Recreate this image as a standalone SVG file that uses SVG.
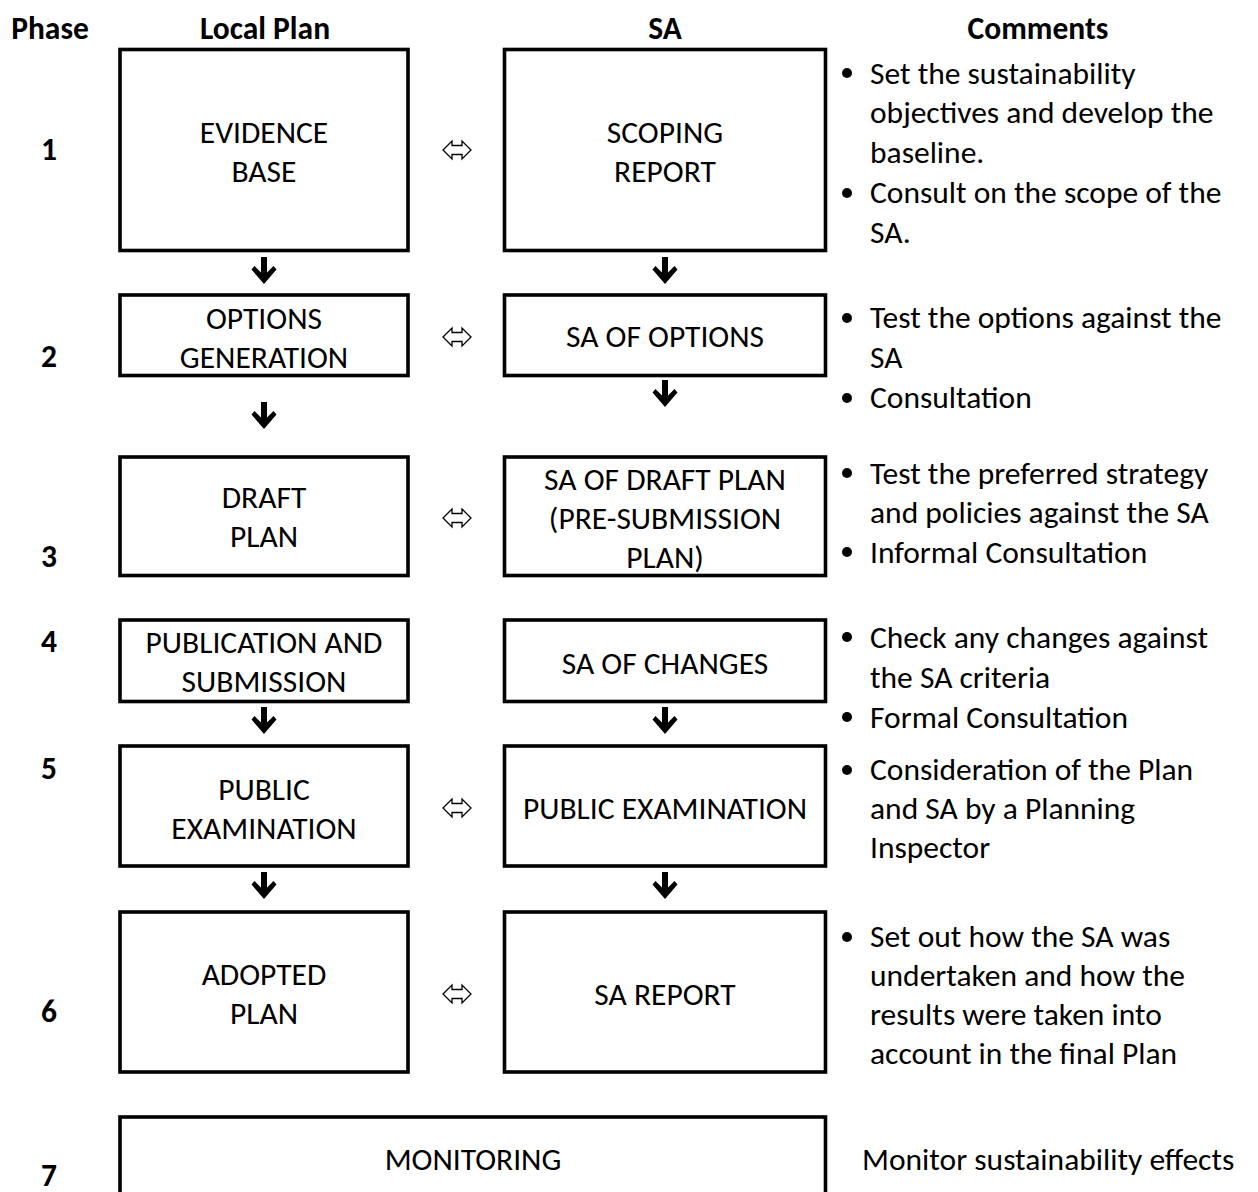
<svg xmlns="http://www.w3.org/2000/svg" width="1258" height="1192" viewBox="0 0 1258 1192">
<style>
text{font-family:Carlito,Lato,"Liberation Sans",sans-serif;fill:#000}
.h{font-size:31.5px;font-weight:bold;text-anchor:middle}
.n{font-size:31.5px;font-weight:bold;text-anchor:middle}
.b{font-size:31.5px;text-anchor:middle}
.c{font-size:31.5px}
.box{fill:#fff;stroke:#000;stroke-width:3.6}
.arr{fill:#000}
.dbl{fill:#fff;stroke:#000;stroke-width:1.3;stroke-linejoin:miter}
</style>
<defs>
<polygon id="down" points="-3,0 3,0 3,15.5 9.5,9 12.5,12.5 0,27 -12.5,12.5 -9.5,9 -3,15.5"/>
<polygon id="lr" points="-14,0 -5,-9 -5,-4.5 5,-4.5 5,-9 14,0 5,9 5,4.5 -5,4.5 -5,9"/>
</defs>
<rect width="1258" height="1192" fill="#fff"/>
<g id="headers">
<text class="h" x="50" y="39">Phase</text>
<text class="h" x="265" y="39">Local Plan</text>
<text class="h" x="665" y="39">SA</text>
<text class="h" x="1038" y="39">Comments</text>
</g>
<g id="phases">
<text class="n" x="49" y="160">1</text>
<text class="n" x="49" y="367">2</text>
<text class="n" x="49" y="567">3</text>
<text class="n" x="49" y="652">4</text>
<text class="n" x="49" y="779">5</text>
<text class="n" x="49" y="1022">6</text>
<text class="n" x="49" y="1186">7</text>
</g>
<g id="evidence-base"><rect class="box" x="120" y="49.5" width="288" height="201"/><text class="b" x="264" y="143">EVIDENCE</text><text class="b" x="264" y="182">BASE</text></g>
<g id="scoping-report"><rect class="box" x="504.5" y="49.5" width="321" height="201"/><text class="b" x="665" y="143">SCOPING</text><text class="b" x="665" y="182">REPORT</text></g>
<g id="options-generation"><rect class="box" x="120" y="295" width="288" height="80.5"/><text class="b" x="264" y="329">OPTIONS</text><text class="b" x="264" y="368">GENERATION</text></g>
<g id="sa-of-options"><rect class="box" x="504.5" y="295" width="321" height="80.5"/><text class="b" x="665" y="347">SA OF OPTIONS</text></g>
<g id="draft-plan"><rect class="box" x="120" y="457" width="288" height="118.5"/><text class="b" x="264" y="508">DRAFT</text><text class="b" x="264" y="547">PLAN</text></g>
<g id="sa-of-draft-plan"><rect class="box" x="504.5" y="457" width="321" height="118.5"/><text class="b" x="665" y="490">SA OF DRAFT PLAN</text><text class="b" x="665" y="529">(PRE-SUBMISSION</text><text class="b" x="665" y="568">PLAN)</text></g>
<g id="publication-submission"><rect class="box" x="120" y="620" width="288" height="81.5"/><text class="b" x="264" y="653">PUBLICATION AND</text><text class="b" x="264" y="692">SUBMISSION</text></g>
<g id="sa-of-changes"><rect class="box" x="504.5" y="620" width="321" height="81.5"/><text class="b" x="665" y="674">SA OF CHANGES</text></g>
<g id="public-examination-plan"><rect class="box" x="120" y="746" width="288" height="120"/><text class="b" x="264" y="800">PUBLIC</text><text class="b" x="264" y="839">EXAMINATION</text></g>
<g id="public-examination-sa"><rect class="box" x="504.5" y="746" width="321" height="120"/><text class="b" x="665" y="819">PUBLIC EXAMINATION</text></g>
<g id="adopted-plan"><rect class="box" x="120" y="912" width="288" height="160"/><text class="b" x="264" y="985">ADOPTED</text><text class="b" x="264" y="1024">PLAN</text></g>
<g id="sa-report"><rect class="box" x="504.5" y="912" width="321" height="160"/><text class="b" x="665" y="1005">SA REPORT</text></g>
<g id="monitoring"><rect class="box" x="120" y="1117" width="705.5" height="120"/><text class="b" x="473" y="1170">MONITORING</text></g>
<g id="connectors">
<use href="#down" class="arr" x="264" y="257"/>
<use href="#down" class="arr" x="665" y="257"/>
<use href="#down" class="arr" x="264" y="402"/>
<use href="#down" class="arr" x="665" y="380"/>
<use href="#down" class="arr" x="264" y="707"/>
<use href="#down" class="arr" x="665" y="707"/>
<use href="#down" class="arr" x="264" y="872"/>
<use href="#down" class="arr" x="665" y="872"/>
<use href="#lr" class="dbl" x="457" y="150"/>
<use href="#lr" class="dbl" x="457" y="337"/>
<use href="#lr" class="dbl" x="457" y="518"/>
<use href="#lr" class="dbl" x="457" y="808"/>
<use href="#lr" class="dbl" x="457" y="994"/>
</g>
<g id="comments">
<circle cx="847" cy="73" r="5"/><circle cx="847" cy="193" r="5"/>
<circle cx="847" cy="318" r="5"/><circle cx="847" cy="398" r="5"/>
<circle cx="847" cy="473" r="5"/><circle cx="847" cy="552" r="5"/>
<circle cx="847" cy="637" r="5"/><circle cx="847" cy="717" r="5"/>
<circle cx="847" cy="770" r="5"/>
<circle cx="847" cy="937" r="5"/>
<text class="c" x="870" y="84">Set the sustainability</text>
<text class="c" x="870" y="123">objectives and develop the</text>
<text class="c" x="870" y="163">baseline.</text>
<text class="c" x="870" y="203">Consult on the scope of the</text>
<text class="c" x="870" y="243">SA.</text>
<text class="c" x="870" y="328">Test the options against the</text>
<text class="c" x="870" y="368">SA</text>
<text class="c" x="870" y="408">Consultation</text>
<text class="c" x="870" y="484">Test the preferred strategy</text>
<text class="c" x="870" y="523">and policies against the SA</text>
<text class="c" x="870" y="563">Informal Consultation</text>
<text class="c" x="870" y="648">Check any changes against</text>
<text class="c" x="870" y="688">the SA criteria</text>
<text class="c" x="870" y="728">Formal Consultation</text>
<text class="c" x="870" y="780">Consideration of the Plan</text>
<text class="c" x="870" y="819">and SA by a Planning</text>
<text class="c" x="870" y="858">Inspector</text>
<text class="c" x="870" y="947">Set out how the SA was</text>
<text class="c" x="870" y="986">undertaken and how the</text>
<text class="c" x="870" y="1025">results were taken into</text>
<text class="c" x="870" y="1064">account in the final Plan</text>
<text class="c" x="862" y="1170">Monitor sustainability effects</text>
</g>
</svg>
